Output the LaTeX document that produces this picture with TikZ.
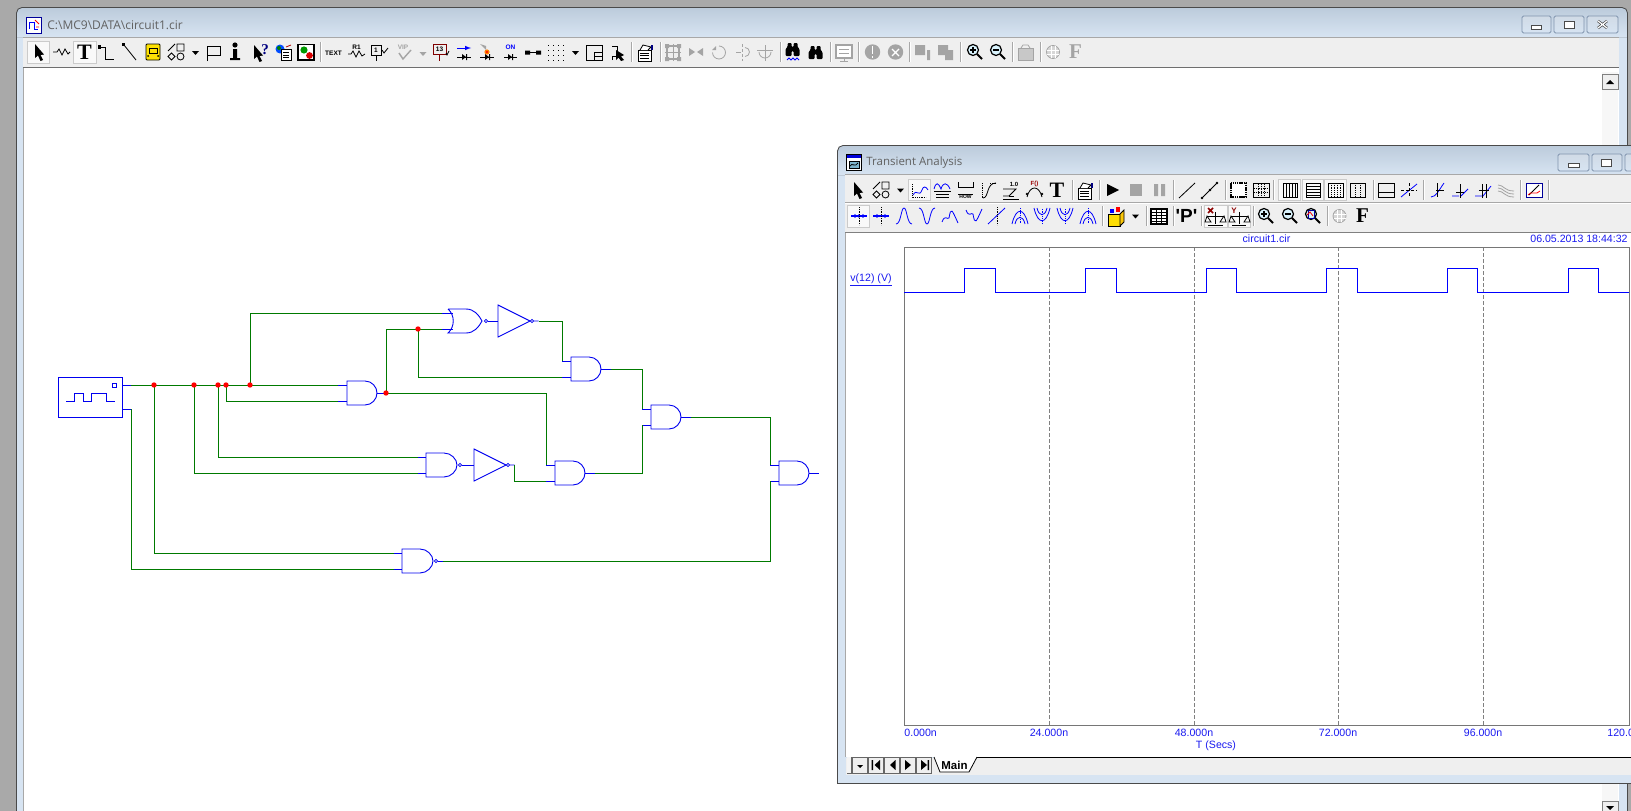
\documentclass[tikz,border=0pt]{standalone}
\usepackage{fontspec}
\setmainfont{Open Sans}
\newfontfamily\plotfont{Liberation Sans}
\newfontfamily\iconfont{Liberation Serif}
\definecolor{desk}{HTML}{A9A9A9}
\definecolor{frametop}{HTML}{BCCBDB}
\definecolor{framelow}{HTML}{D7E4F2}
\definecolor{barface}{HTML}{EFEFEF}
\definecolor{edgedark}{HTML}{4A4A4A}
\definecolor{btnedge}{HTML}{7F93AD}
\definecolor{seam}{HTML}{A8A8A8}
\definecolor{dim}{HTML}{A4A4A4}
\definecolor{pinblue}{HTML}{0000F0}
\definecolor{wiregreen}{HTML}{007A00}
\definecolor{labelblue}{HTML}{1A1AF0}
\tikzset{
  wire/.style={draw=wiregreen, line width=0.9pt},
  pin/.style={draw=pinblue, line width=0.9pt},
  junction/.style={circle, fill=red, inner sep=0pt, minimum size=5.4pt},
  seltool/.style={draw=seam!60, fill=white!60!barface},
  winbtn/.style={draw=btnedge, rounded corners=1.5pt, top color=frametop!70, bottom color=framelow},
  plotlabel/.style={text=labelblue, font=\plotfont\fontsize{10.6}{11}\selectfont, inner sep=0pt},
  small/.style={inner sep=0pt, font=\plotfont\bfseries\fontsize{6.5}{7}\selectfont},
  trace/.style={draw=blue, line width=1pt},
  griddash/.style={draw=gray, line width=0.7pt, dash pattern=on 3.5pt off 2.5pt},
  andgate/.pic={
    \coordinate (-a) at (-9,-8); \coordinate (-b) at (-9,8); \coordinate (-q) at (39.5,0);
    \draw[pin] (-a) -- (0,-8) (-b) -- (0,8) (30,0) -- (-q);
    \draw[pin] (0,-12) -- (18,-12) .. controls (25,-12) and (30,-6) .. (30,0) .. controls (30,6) and (25,12) .. (18,12) -- (0,12) -- cycle;},
  nandgate/.pic={
    \coordinate (-a) at (-8.5,-8); \coordinate (-b) at (-8.5,8); \coordinate (-q) at (41,0);
    \draw[pin] (-a) -- (0,-8) (-b) -- (0,8) (35.7,0) -- (-q);
    \draw[pin] (0,-12) -- (18,-12) .. controls (25,-12) and (31,-6) .. (31,0) .. controls (31,6) and (25,12) .. (18,12) -- (0,12) -- cycle;
    \draw[pinblue, line width=0.7pt] (34,0) circle (1.7);},
  norgate/.pic={
    \coordinate (-a) at (-6,-8); \coordinate (-b) at (-6,8); \coordinate (-q) at (50,0);
    \draw[pin] (-a) -- (4.5,-8) (-b) -- (4.5,8) (39.7,0) -- (-q);
    \draw[pin] (0,-12) -- (18,-12) .. controls (26,-12) and (31,-6) .. (34,0) .. controls (31,6) and (26,12) .. (18,12) -- (0,12) .. controls (7,6) and (7,-6) .. (0,-12);
    \draw[pinblue, line width=0.7pt] (38,0) circle (1.7);},
  invgate/.pic={
    \coordinate (-i) at (0,0); \coordinate (-q) at (40.5,0);
    \draw[pin] (0,-16) -- (32,0) -- (0,16) -- cycle (35.7,0) -- (-q);
    \draw[pinblue, line width=0.7pt] (34,0) circle (1.7);},
  sepbar/.pic={\draw[seam] (0,-10)--(0,10); \draw[white] (1,-10)--(1,10);},
  cursoricon/.pic={\fill (-4,-8)--(-4,6)--(-1,3.5)--(1.5,9)--(4,8)--(1.5,3)--(5,2.5)--cycle;},
  shapeicon/.pic={\draw (-8,-1)--(-1,-8) (1,-8) rectangle (8,-1) (-4.5,1)--(-1,4.5)--(-4.5,8)--(-8,4.5)--cycle (4.5,4.5) circle (3.5);},
  dropicon/.pic={\fill (-3.5,-2)--(3.5,-2)--(0,2)--cycle;},
  zoomicon/.pic={\draw[line width=1.2pt, fill=cyan!15] (-2,-2) circle (5.5); \draw[line width=2pt] (2,2)--(7,7);},
  binoicon/.pic={\fill[rounded corners=1pt] (-7,6)--(-7,-1)--(-5,-3)--(-5,-7)--(-1,-7)--(-1,-3)--(1,-3)--(1,-7)--(5,-7)--(5,-3)--(7,-1)--(7,6)--(1,6)--(1,1)--(-1,1)--(-1,6)--cycle;},
  peakicon/.pic={\draw[blue] (-8,8) .. controls (-3,8) and (-3,-8) .. (0,-8) .. controls (3,-8) and (3,8) .. (8,8);},
  wiggleicon/.pic={\draw[blue] (-8,6) .. controls (-5,-2) and (-3,4) .. (-1,2) .. controls (1,-10) and (2,-6) .. (8,7);},
  nesticon/.pic={\draw[blue] (-8,8) .. controls (-4,-9) and (4,-9) .. (8,8) (-5,8) .. controls (-3,-1) and (3,-1) .. (5,8); \draw[blue,densely dotted] (0,-8)--(0,8);},
  globeicon/.pic={\draw[dim, fill=dim!45] (0,0) circle (6.5); \draw[white] (-6,-2)--(6,-2) (-6,2)--(6,2) (-2,-6)--(-2,6) (2,-6)--(2,6);},
  propsicon/.pic={\draw[fill=white] (-7,-3) rectangle (6,8); \draw (-5,0)--(4,0) (-5,2.5)--(4,2.5) (-5,5)--(4,5); \draw[fill=white] (-5,-3)--(-2,-8)--(6,-6)--(3,-3); \fill[blue!50!black] (6,-8) rectangle (8,-3);},
}
\begin{document}
\begin{tikzpicture}[x=1pt, y=-1pt, line width=0.8pt]
\useasboundingbox (0,0) rectangle (1631,811);
\fill[desk] (0,0) rectangle (1631,811);

% schematic window
\fill[framelow] (16.5,37) rectangle (1627.5,811);
\fill[top color=frametop, bottom color=framelow] (16.5,37) -- (16.5,13) arc (180:270:5.5) -- (1622,7.5) arc (-90:0:5.5) -- (1627.5,37) -- cycle;
\draw[edgedark] (16.5,811) -- (16.5,13) arc (180:270:5.5) -- (1622,7.5) arc (-90:0:5.5) -- (1627.5,811);
\fill[barface] (23,37) rectangle (1619,67);
\draw[seam] (23,37) -- (1619,37);
\draw[edgedark!80] (23,67) -- (1619,67);
\fill[white] (23,68) rectangle (1619,811);
\draw[seam] (23,68) -- (23,811);
\fill[black!3] (1602,72) rectangle (1618,811);
\draw[gray, fill=barface] (1602,74) rectangle (1618,89);
\fill (1606,84)--(1614,84)--(1610,80)--cycle;
\draw[gray, fill=barface] (1602,801) rectangle (1618,815);
\fill (1606,806)--(1614,806)--(1610,810)--cycle;

\draw[blue!60!black, fill=white] (26,17) rectangle (41.5,33);
\draw[blue] (29,29)--(29,22)--(34,22)--(34,29)--(38,29);
\draw[red] (35,20)--(39,24) (36,27)--(39,27);
\node[inner sep=0pt, anchor=west, text=black!62, font=\fontsize{12}{12}\selectfont] (maintitle) at (47,25.5) {C:\textbackslash MC9\textbackslash DATA\textbackslash circuit1.cir};
\draw[winbtn] (1522,16) rectangle (1551,33);
\draw[winbtn] (1554,16) rectangle (1584,33);
\draw[winbtn] (1587,16) rectangle (1618,33);
\draw[edgedark, fill=white] (1531,25) rectangle (1541,29);
\draw[edgedark, fill=white] (1564,21) rectangle (1574,28);
\draw[edgedark, line width=2.6pt] (1598,21)--(1607,28) (1607,21)--(1598,28);
\draw[white, line width=1.2pt] (1598,21)--(1607,28) (1607,21)--(1598,28);

% schematic toolbar
\draw[seltool] (27.5,41) rectangle (49,63);
\draw[seltool] (73,41) rectangle (96,63);
\pic at (39,52) {cursoricon};
\draw (53,52)--(57,52)--(59,49)--(62,55)--(65,49)--(68,54)--(70,52);
\node[inner sep=0pt, font=\iconfont\bfseries\fontsize{22}{22}\selectfont] (tooltee) at (84.5,52) {T};
\draw (99,47)--(105,47)--(105,59)--(114,59);
\fill (98,45) rectangle (101,49);
\draw (124,45)--(136,60);
\fill (122,43) rectangle (125,46);
\draw[rounded corners=1pt, fill=yellow!85!orange] (146,44) rectangle (160,60);
\draw (149,48) rectangle (157,53);
\fill (148,56) circle (1) (158,56) circle (1);
\pic at (176,52) {shapeicon};
\pic at (195.5,53) {dropicon};
\draw[line width=1pt] (207,61)--(207,46)--(220,46)--(220,55)--(207,55);
\fill (235,45) circle (2.6);
\fill (233,49) rectangle (237,58) (230,58) rectangle (240,60);
\pic at (258,53) {cursoricon};
\node[inner sep=0pt, font=\iconfont\bfseries\fontsize{15}{15}\selectfont, text=blue!50!black] (toolask) at (265,50) {?};
\fill[blue!70!cyan] (280,49) circle (4.5);
\fill[green!50!black] (279,48) circle (2);
\draw[fill=white] (281,49) rectangle (291,60);
\draw (283,52)--(289,52) (283,55)--(289,55) (283,57.5)--(289,57.5);
\draw[red!70!black] (286,47)--(291,45);
\draw[line width=1.2pt, fill=white] (298,44.5) rectangle (314,60);
\fill[green!60!black] (304,50) circle (3.6);
\fill[red!85!black] (309.5,55.5) circle (3.4);
\pic at (320,52) {sepbar};
\node[small] (tooltext) at (333.5,53) {TEXT};
\node[small] (toolrone) at (356.5,47) {R1};
\draw (348,54)--(351,54)--(353,51)--(356,57)--(359,51)--(362,56)--(365,54);
\draw[line width=.9pt] (371,45) rectangle (381,55) (376,55)--(376,61);
\node[small] (toolone) at (376,50) {1};
\draw (382,50)--(384,53)--(388,48);
\node[small, text=dim] (toolvip) at (403,47) {VIP};
\draw[dim, line width=1.4pt] (399,53)--(403,59)--(411,50);
\pic[dim] at (423,54) {dropicon};
\draw[red!50!black, line width=1pt] (433,44) rectangle (446,54) (439,54)--(439,61);
\node[small] (toolcount) at (439.5,49) {13};
\draw (446,53)--(447,55)--(449,51);
\draw[blue, line width=1pt, -latex] (457,48)--(471,48);
\draw (457,57)--(471,57);
\fill (462,54)--(462,60)--(466,57)--cycle (466,54) rectangle (467,60);
\fill[dim] (480,44)--(486,46)--(486,50)--cycle;
\fill[orange] (487,52) circle (2.6);
\fill[red] (487,52) circle (1.2);
\draw (480,57)--(494,57);
\fill (485,54)--(485,60)--(489,57)--cycle (489,54) rectangle (490,60);
\node[small, text=blue] (toolon) at (510.5,47) {ON};
\draw (504,57)--(517,57);
\fill (508,54)--(508,60)--(512,57)--cycle (512,54) rectangle (513,60);
\draw (525,52.5)--(541,52.5);
\fill (525,50.5) rectangle (530,54.5) (536,50.5) rectangle (541,54.5);
\foreach \x in {548,553,558,563} \foreach \y in {45,50,55,60} \fill (\x,\y) rectangle ++(1.2,1.2);
\pic at (575.5,53) {dropicon};
\draw[line width=1pt] (586,45) rectangle (602,60);
\draw (594,52) -- (602,52) (594,52) -- (594,60) (594,56)--(602,56);
\draw (612,46)--(617,46)--(617,51);
\draw (612,60)--(612,56)--(617,56);
\fill (616,50)--(616,60)--(618.5,57.5)--(621,61)--(624,60)--(621,56.5)--(624,55)--cycle;
\pic at (631,52) {sepbar};
\pic at (645,53) {propsicon};
\pic at (660,52) {sepbar};
\begin{scope}[dim]
  \draw[line width=1.6pt] (667,46) rectangle (679,59);
  \draw (673,44)--(673,61) (665,52)--(681,52);
  \fill (665,44) rectangle (669,48) (677,44) rectangle (681,48) (665,57) rectangle (669,61) (677,57) rectangle (681,61);
  \fill (689,48)--(695,52)--(689,56)--cycle (703,48)--(697,52)--(703,56)--cycle;
  \draw (719,46) arc (-90:180:6.5);
  \fill (712,50)--(716,50)--(716,46)--cycle;
  \draw (745,47.5) arc (-90:90:4.5);
  \draw[densely dashed] (742,44)--(742,61);
  \draw (736,52)--(741,52);
  \draw (757,50)--(773,50) (765,45)--(765,61);
  \draw (759,52) arc (180:0:6);
  \draw[line width=1.2pt, fill=white] (836,45) rectangle (852,58);
  \draw (839,49)--(849,49) (839,53)--(849,53) (844,58)--(844,61) (840,61)--(848,61);
  \fill (872.5,52) circle (7.7);
  \fill (895.5,52) circle (7.7);
  \fill (915,45) rectangle (925,55) (927,50) rectangle (930,60) (938,45) rectangle (948,55) (945,50) rectangle (953,60);
\end{scope}
\pic at (780,52) {sepbar};
\pic at (792.5,50) {binoicon};
\draw[blue] (787,60)--(789,58)--(791,60)--(793,58)--(795,60)--(797,58)--(799,60);
\pic at (815.5,53) {binoicon};
\pic at (830,52) {sepbar};
\draw[white, line width=1.3pt] (872.5,46)--(872.5,54) (872.5,56)--(872.5,58);
\draw[white, line width=1.3pt] (892,49)--(899,56) (899,49)--(892,56);
\pic at (858,52) {sepbar};
\pic at (909,52) {sepbar};
\pic at (960,52) {sepbar};
\pic at (975,52) {zoomicon};
\draw[line width=1.2pt] (970,50)--(976,50) (973,47)--(973,53);
\pic at (998,52) {zoomicon};
\draw[line width=1.2pt] (993,50)--(999,50);
\pic at (1012,52) {sepbar};
\draw[dim, fill=dim!60] (1018,48) rectangle (1033,60);
\draw[dim] (1021,48)--(1023,45)--(1028,45)--(1030,48);
\pic at (1040,52) {sepbar};
\pic at (1053,52) {globeicon};
\node[inner sep=0pt, text=dim, font=\iconfont\bfseries\fontsize{21}{21}\selectfont] (toolffaint) at (1075.5,52) {F};

% circuit
\node[rectangle, draw=pinblue, line width=0.9pt, minimum width=64pt, minimum height=40pt, inner sep=0pt] (src) at (90,397) {};
\draw[pinblue, line width=0.9pt] (66,401)--(74,401)--(74,393)--(83,393)--(83,401)--(91,401)--(91,393)--(106,393)--(106,401)--(115,401);
\draw[pinblue, line width=0.9pt] (112.5,383.5) rectangle (116.5,387.5);
\pic (and1) at (347,393) {andgate};
\pic (nor1) at (448,321) {norgate};
\pic (inv1) at (498,321) {invgate};
\pic (and2) at (571,369) {andgate};
\pic (nand1) at (426,465) {nandgate};
\pic (inv2) at (474,465) {invgate};
\pic (and3) at (555,473) {andgate};
\pic (and4) at (651,417) {andgate};
\pic (and5) at (779,473) {andgate};
\pic (nand2) at (402,561) {nandgate};

\coordinate (srca) at (131,385);
\coordinate (srcb) at (131,409);
\draw[pin] (src.east |- srca) -- (srca);
\draw[pin] (src.east |- srcb) -- (srcb);
\draw[pin] (nand1-q) -- (inv2-i);

\coordinate (j1) at (154,385);
\coordinate (j2) at (194,385);
\coordinate (j3) at (218,385);
\coordinate (j4) at (226,385);
\coordinate (j5) at (250,385);
\coordinate (j6) at (386,393);
\coordinate (j7) at (418,329);

\draw[wire] (srca) -- (and1-a);
\draw[wire] (j4) |- (and1-b);
\draw[wire] (j5) |- (nor1-a);
\draw[wire] (j6) |- (nor1-b);
\draw[wire] (and1-q) -- (j6);
\draw[wire] (j7) |- (and2-b);
\draw[wire] (j6) -| (and3-a);
\draw[wire] (inv1-q) -| (and2-a);
\draw[wire] (j3) |- (nand1-a);
\draw[wire] (j2) |- (nand1-b);
\draw[wire] (inv2-q) |- (and3-b);
\draw[wire] (j1) |- (nand2-a);
\draw[wire] (srcb) |- (nand2-b);
\draw[wire] (and2-q) -| (and4-a);
\draw[wire] (and3-q) -| (and4-b);
\draw[wire] (and4-q) -| (and5-a);
\draw[wire] (nand2-q) -| (and5-b);
\foreach \j in {j1,j2,j3,j4,j5,j6,j7} \node[junction] (\j dot) at (\j) {};

% analysis window
\fill[framelow] (837.5,174) rectangle (1631,783);
\fill[top color=frametop, bottom color=framelow] (837.5,175) -- (837.5,151) arc (180:270:5.5) -- (1631,145.5) -- (1631,175) -- cycle;
\draw[edgedark] (1631,783.5) -- (837.5,783.5) -- (837.5,151) arc (180:270:5.5) -- (1631,145.5);
\fill[barface] (845,175) rectangle (1631,232);
\draw[seam] (845,174.5) -- (1631,174.5);
\draw[seam] (845,202.5) -- (1631,202.5);
\draw[white] (845,203.5) -- (1631,203.5);
\draw[edgedark!70] (845,232.5) -- (1631,232.5);
\fill[white] (845,233) rectangle (1631,757);
\draw[seam] (845.5,233) -- (845.5,757);
\draw[line width=1pt, fill=white] (846.5,154.5) rectangle (861.5,170);
\fill[blue!85!black] (847,155) rectangle (861,158);
\draw[fill=cyan!30!teal!60] (849,161) rectangle (859,168);
\draw[black] (850,166) .. controls (852,162) and (855,168) .. (858,163);
\node[inner sep=0pt, anchor=west, text=black!62, font=\fontsize{11.5}{12}\selectfont] (plottitle) at (866,163) {Transient Analysis};
\draw[winbtn] (1558,154) rectangle (1589,171);
\draw[winbtn] (1592,154) rectangle (1622,171);
\draw[winbtn] (1625,154) rectangle (1640,171);
\draw[edgedark, fill=white] (1568,163) rectangle (1579,167);
\draw[edgedark, fill=white] (1601,159) rectangle (1611,166);

% analysis toolbars
\draw[seltool] (908,179) rectangle (930,200);
\foreach \a/\b in {1278/1300,1302/1323,1324/1346} \draw[seltool] (\a,179) rectangle (\b,200);
\draw[seltool] (847,205) rectangle (869,227);
\draw[seltool] (1204,205) rectangle (1227,227);
\draw[seltool] (1228,205) rectangle (1250,227);
\pic at (858,190) {cursoricon};
\pic at (881,190) {shapeicon};
\pic at (900.5,190.5) {dropicon};
\draw[densely dotted] (912,184) -- (912,197) -- (926,197);
\draw[blue] (913,195) .. controls (917,188) and (919,198) .. (922,190) .. controls (923,186) and (926,186) .. (928,190);
\draw[blue] (934,189) .. controls (936,182) and (938,182) .. (941,189) .. controls (943,182) and (947,182) .. (950,189);
\draw (934,191)--(951,191) (936,194)--(949,194) (936,197)--(949,197);
\draw (958,182)--(958,187)--(973,187)--(973,182) (958,194)--(973,194);
\node[small, font=\plotfont\bfseries\fontsize{5}{5}\selectfont] (toolhow) at (965.5,197) {HOW};
\draw[densely dotted] (982,183)--(982,198);
\draw[densely dotted] (990,183)--(996,183);
\draw (983,198) .. controls (989,198) and (986,183) .. (996,183);
\node[small, font=\plotfont\bfseries\fontsize{6}{6}\selectfont] (toolunit) at (1014,184) {1.0};
\draw (1003,196)--(1009,196)--(1016,189)--(1003,189);
\draw (1003,199)--(1019,199) (1009,196)--(1014,196);
\node[small, text=red!60!black, font=\plotfont\bfseries\fontsize{6}{6}\selectfont] (toolfunc) at (1034.5,184) {F()};
\draw (1027,197) .. controls (1030,185) and (1039,185) .. (1042,197);
\fill (1027,194) circle (1.3) (1042,194) circle (1.3);
\node[inner sep=0pt, font=\iconfont\bfseries\fontsize{22}{22}\selectfont] (tooltee2) at (1057,190) {T};
\pic at (1072,190) {sepbar};
\pic at (1085,191) {propsicon};
\pic at (1099,190) {sepbar};
\fill (1107,184)--(1119,190)--(1107,196)--cycle;
\fill[dim] (1130,184) rectangle (1142,196);
\fill[dim] (1154,184) rectangle (1158,196) (1161,184) rectangle (1165,196);
\pic at (1173,190) {sepbar};
\draw (1179,198)--(1195,183);
\draw (1202,198)--(1217,183);
\fill (1202,198) circle (1.4) (1210,190) circle (1.4) (1217,183) circle (1.4);
\pic at (1225,190) {sepbar};
\draw[line width=1.6pt, dash pattern=on 1.5pt off .7pt, fill=white] (1231,183) rectangle (1246,197);
\draw[line width=1pt] (1253,183) rectangle (1269,197);
\foreach \x in {1258,1261,1264} \draw[densely dotted] (\x,184)--(\x,196);
\draw[densely dotted] (1254,188)--(1268,188) (1254,192)--(1268,192);
\pic at (1273,190) {sepbar};
\draw[line width=1pt] (1283,183) rectangle (1297,197);
\foreach \x in {1286,1289,1292,1295} \draw (\x,183)--(\x,197);
\draw[line width=1pt] (1306,183) rectangle (1320,197);
\foreach \y in {186,189,192,195} \draw (1306,\y)--(1320,\y);
\draw[line width=1pt] (1328,183) rectangle (1343,197);
\foreach \x in {1331,1334,1337,1340} \draw[densely dotted] (\x,183)--(\x,197);
\draw[line width=1pt] (1350,183) rectangle (1365,197);
\draw[densely dotted] (1355,183)--(1355,197) (1360,183)--(1360,197);
\pic at (1373,190) {sepbar};
\draw[line width=1pt] (1378,183) rectangle (1394,197) (1378,192)--(1394,192);
\draw[blue] (1401,197)--(1417,184);
\draw[densely dashed] (1401,190)--(1417,190) (1409,183)--(1409,197);
\pic at (1423,190) {sepbar};
\draw[blue] (1431,197) .. controls (1436,197) and (1439,190) .. (1444,183);
\draw (1436,190)--(1444,190) (1437,183)--(1437,197);
\draw[blue] (1452,196)--(1459,196) (1461,196)--(1468,189);
\draw (1460,184)--(1460,198) (1456,192)--(1464,192);
\draw[blue] (1475,196)--(1483,196)--(1491,186);
\draw (1482,184)--(1482,198) (1486,184)--(1486,198) (1479,190)--(1489,190);
\draw[dim] (1498,185) .. controls (1504,185) and (1504,191) .. (1514,191) (1498,188) .. controls (1504,188) and (1504,194) .. (1514,194) (1498,191) .. controls (1504,191) and (1504,197) .. (1514,197);
\pic at (1520,190) {sepbar};
\draw[blue!60!black, line width=1pt, fill=white] (1526,183) rectangle (1542,197);
\draw (1529,195)--(1539,185);
\draw[red] (1528,195) .. controls (1531,190) and (1536,196) .. (1540,191);
\pic at (1548,190) {sepbar};

\draw[blue, line width=1.4pt] (851,216)--(867,216);
\fill[blue] (855,216) circle (1.8) (859,216) circle (1.8) (863,216) circle (1.8);
\draw[densely dotted] (859,207)--(859,225);
\draw[blue, line width=1.4pt] (873,216)--(889,216);
\fill[blue] (877,216) circle (1.8) (885,216) circle (1.8);
\draw[densely dotted] (881,207)--(881,225);
\pic at (904,216) {peakicon};
\pic[yscale=-1] at (927,216) {peakicon};
\pic at (950,216) {wiggleicon};
\pic[yscale=-1] at (974,216) {wiggleicon};
\draw[blue] (988,224)--(1005,208);
\draw[densely dotted] (997,207)--(997,225);
\pic at (1020,216) {nesticon};
\pic[yscale=-1] at (1042,216) {nesticon};
\pic[yscale=-1] at (1065,216) {nesticon};
\pic at (1088,216) {nesticon};
\pic at (1102,216) {sepbar};
\draw[fill=yellow!80!orange] (1108,214) rectangle (1120,226);
\draw[fill=yellow!60!orange] (1120,214)--(1124,210)--(1124,222)--(1120,226)--cycle;
\fill[blue] (1110,209) rectangle (1114,213);
\fill[red] (1116,207) rectangle (1120,212);
\pic at (1135.5,216.5) {dropicon};
\pic at (1146,216) {sepbar};
\draw[line width=1.2pt, fill=white] (1151,209) rectangle (1167,224);
\foreach \y in {212,215,218,221} \draw (1152,\y)--(1166,\y);
\draw (1156,209)--(1156,224) (1161,209)--(1161,224);
\pic at (1173,216) {sepbar};
\node[inner sep=0pt, font=\plotfont\bfseries\fontsize{19}{19}\selectfont] (toolprobe) at (1186.5,216) {'P'};
\pic at (1201,216) {sepbar};
\draw[red!55!black, line width=1.6pt] (1208,208)--(1213,213) (1213,208)--(1208,213);
\draw[line width=1pt] (1215,212)--(1215,224) (1208,225)--(1223,225) (1207,216)--(1224,216);
\draw (1207,216)--(1205,222)--(1211,222)--cycle (1224,216)--(1220,222)--(1226,222)--cycle;
\node[inner sep=0pt, text=red!55!black, font=\plotfont\bfseries\fontsize{8}{8}\selectfont] (toolaxis) at (1234,211) {Y};
\draw[line width=1pt] (1239,212)--(1239,224) (1232,225)--(1246,225) (1231,216)--(1248,216);
\draw (1231,216)--(1229,222)--(1235,222)--cycle (1248,216)--(1244,222)--(1250,222)--cycle;
\pic at (1253,216) {sepbar};
\pic at (1266,216) {zoomicon};
\draw[line width=1.2pt] (1261,214)--(1267,214) (1264,211)--(1264,217);
\pic at (1290,216) {zoomicon};
\draw[line width=1.2pt] (1285,214)--(1291,214);
\pic at (1313,216) {zoomicon};
\draw[blue!60!black] (1308,210) rectangle (1314,218);
\draw[red] (1307,215)--(1310,212)--(1313,216);
\pic at (1327,216) {sepbar};
\pic at (1339.5,216) {globeicon};
\node[inner sep=0pt, font=\iconfont\bfseries\fontsize{21}{21}\selectfont] (toolfont) at (1362.5,216) {F};

% plot
\node[plotlabel] (plotfile) at (1266.5,239) {circuit1.cir};
\node[plotlabel, anchor=east] (plotstamp) at (1628,239) {06.05.2013 18:44:32};
\node[plotlabel, anchor=west] (plotvar) at (850,280) {\underline{v(12) (V)}};
\foreach \x in {1049,1194,1338,1483} \draw[griddash] (\x,247) -- (\x,725);
\draw[seam!70!black] (904,247) rectangle (1629,725);
\draw[trace] (904,292) -- (964,292) -- (964,268) -- (995,268) -- (995,292) -- (1085,292) -- (1085,268) -- (1116,268) -- (1116,292) -- (1206,292) -- (1206,268) -- (1236,268) -- (1236,292) -- (1326,292) -- (1326,268) -- (1357,268) -- (1357,292) -- (1447,292) -- (1447,268) -- (1477,268) -- (1477,292) -- (1568,292) -- (1568,268) -- (1598,268) -- (1598,292) -- (1629,292);
\node[plotlabel, anchor=west] (tick0) at (904,733) {0.000n};
\node[plotlabel] (tick1) at (1049,733) {24.000n};
\node[plotlabel] (tick2) at (1194,733) {48.000n};
\node[plotlabel] (tick3) at (1338,733) {72.000n};
\node[plotlabel] (tick4) at (1483,733) {96.000n};
\node[plotlabel, anchor=west] (tick5) at (1607,733) {120.0};
\node[plotlabel] (axisname) at (1216,746) {T (Secs)};

% page tabs
\fill[barface] (846,758) rectangle (1631,775);
\draw[line width=1pt] (977,757.5) -- (1631,757.5);
\fill[gray!80!black] (847,757) rectangle (932,774);
\fill[barface!70] (847,757) rectangle (851,773);
\foreach \a in {853,869,885,901,917} \fill[barface] (\a,757.5) rectangle ++(14,15);
\fill (857,765) -- (863,765) -- (860,768) -- cycle;
\fill (871.5,760) rectangle (873,770) (880,760) -- (880,770) -- (874.5,765) -- cycle;
\fill (895.5,760) -- (895.5,770) -- (890,765) -- cycle;
\fill (905,760) -- (905,770) -- (911,765) -- cycle;
\fill (921,760) -- (921,770) -- (927,765) -- cycle (927.5,760) rectangle (929,770);
\draw[fill=white] (934,757) -- (940,772) -- (969,772) -- (977,757);
\node[inner sep=0pt, font=\plotfont\bfseries\fontsize{11.5}{12}\selectfont] (tabmain) at (954.5,765) {Main};
\end{tikzpicture}
\end{document}
